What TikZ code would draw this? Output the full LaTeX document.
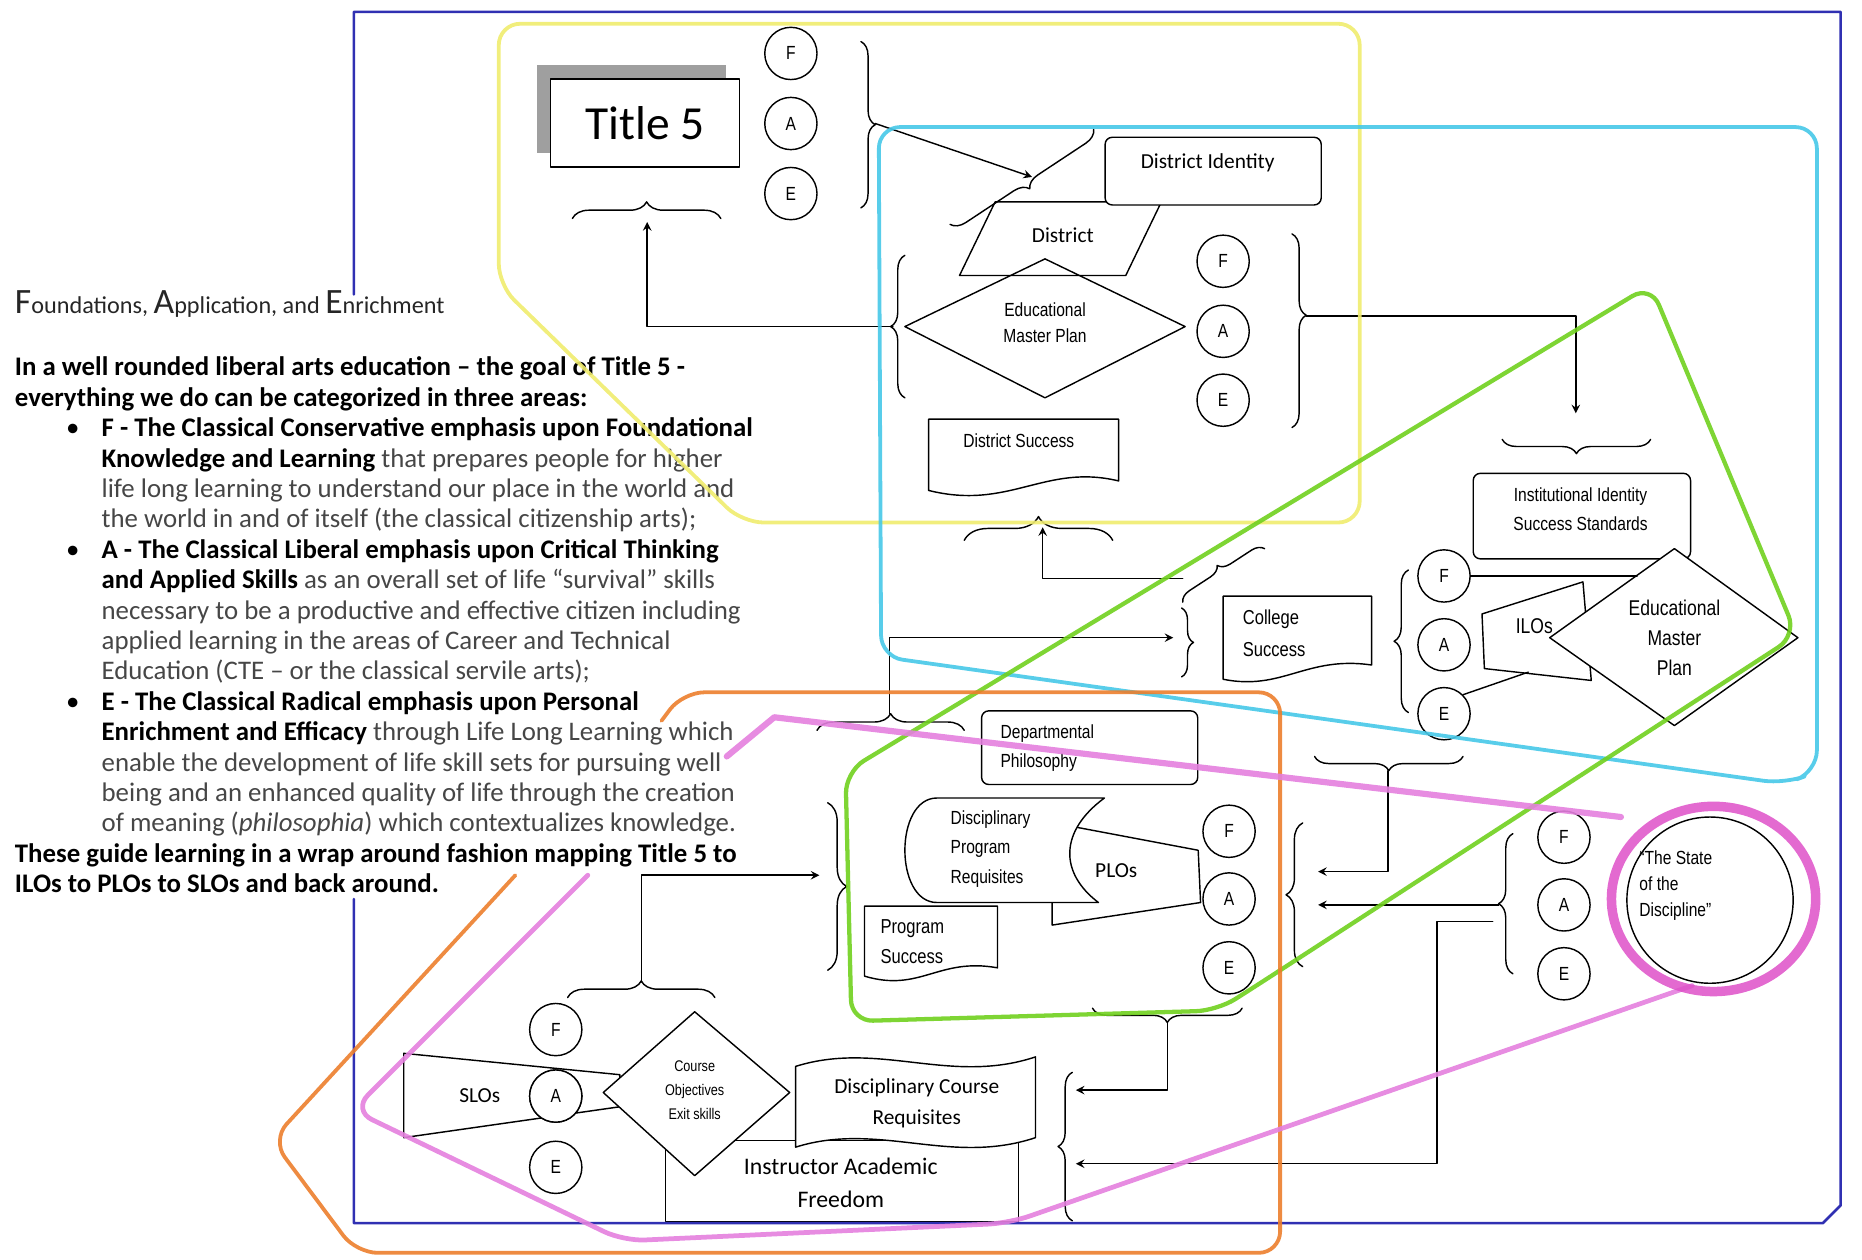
\documentclass[tikz,border=0pt]{standalone}
\usepackage{fontspec}
\setmainfont{Carlito}
\newfontfamily\narrowsf[FakeStretch=0.82]{Liberation Sans}
\usetikzlibrary{decorations.pathreplacing,calc}
\definecolor{txtgray}{RGB}{70,70,70}
\definecolor{hlyellow}{RGB}{240,236,110}
\definecolor{hlcyan}{RGB}{70,200,232}
\definecolor{hlgreen}{RGB}{112,208,30}
\definecolor{hlorange}{RGB}{236,126,44}
\definecolor{hlpink}{RGB}{228,128,222}
\definecolor{hlmagenta}{RGB}{222,80,200}
\definecolor{frameblue}{RGB}{48,48,178}
\newcommand{\bt}[1]{{\bfseries\color{black}#1}}
\newcommand{\bul}{\makebox[36.5pt][l]{\hspace{21.5pt}\color{black}\textbullet}}
\newcommand{\ind}{\hspace*{36.5pt}}
\begin{document}
\begin{tikzpicture}[x=0.5pt,y=-0.5pt,>=stealth,line join=round,line cap=round,line width=0.6pt,
    fae/.style={circle,draw,fill=white,inner sep=0pt,minimum size=22pt,font=\narrowsf\fontsize{8}{8}\selectfont},
    lbl/.style={inner sep=0pt,align=center,font=\narrowsf\fontsize{8}{11}\selectfont},
    cal/.style={inner sep=0pt,align=center,font=\fontsize{9}{13}\selectfont},
    brc/.style={decorate,decoration={brace,amplitude=#1}},
    brc/.default=6pt,
    hl/.style={line width=1.6pt,rounded corners=9pt,opacity=.9}]
\useasboundingbox (0,0) rectangle (1568,1061);

% left hand text
\node[anchor=base west,inner sep=0pt,black!85] (head) at (12,264)
  {\fontsize{10.2}{11}\selectfont{\fontsize{15}{15}\selectfont F}oundations, {\fontsize{15}{15}\selectfont A}pplication, and {\fontsize{15}{15}\selectfont E}nrichment};
\node[anchor=north west,inner sep=0pt,align=left,txtgray,font=\fontsize{11.3}{12.8}\selectfont] (areas) at (12,300) {%
\bt{In a well rounded liberal arts education – the goal of Title 5 -}\\
\bt{everything we do can be categorized in three areas:}\\
\bul\bt{F - The Classical Conservative emphasis upon Foundational}\\
\ind\bt{Knowledge and Learning} that prepares people for higher\\
\ind life long learning to understand our place in the world and\\
\ind the world in and of itself (the classical citizenship arts);\\
\bul\bt{A - The Classical Liberal emphasis upon Critical Thinking}\\
\ind\bt{and Applied Skills} as an overall set of life “survival” skills\\
\ind necessary to be a productive and effective citizen including\\
\ind applied learning in the areas of Career and Technical\\
\ind Education (CTE – or the classical servile arts);\\
\bul\bt{E - The Classical Radical emphasis upon Personal}\\
\ind\bt{Enrichment and Efficacy} through Life Long Learning which\\
\ind enable the development of life skill sets for pursuing well\\
\ind being and an enhanced quality of life through the creation\\
\ind of meaning (\textit{philosophia}) which contextualizes knowledge.\\
\bt{These guide learning in a wrap around fashion mapping Title 5 to}\\
\bt{ILOs to PLOs to SLOs and back around.}};

% Title 5
\fill[gray!75] (452,55) rectangle (611,129);
\node[draw,fill=white,inner sep=0pt,minimum width=79.5pt,minimum height=37pt,anchor=north west,font=\fontsize{20}{20}\selectfont] (title) at (463,66) {Title 5};

% F A E circles
\foreach \s/\x/\yf/\ya/\ye in {t/666/45/104/163, d/1030/220/279/337, c/1216/485/543/601,
    p/1035/700/757/815, s/1317/705/762/820, l/468/867/923/983}{
  \node[fae] (\s F) at (\x,\yf) {F};
  \node[fae] (\s A) at (\x,\ya) {A};
  \node[fae] (\s E) at (\x,\ye) {E};
}

% district
\draw (808,232) -- (838,170) -- (978,170) -- (948,232) -- cycle;
\node[draw,fill=white,rounded corners=3pt,inner sep=0pt,minimum width=91pt,minimum height=28.5pt,anchor=north west] (distid) at (930,115) {};
\node[cal] (distidt) at (1017,137) {District Identity};
\node[cal] (dist) at (895,198) {District};
\draw (762,275) -- (880,218) -- (998,275) -- (880,335) -- cycle;
\node[lbl] (edmp) at (880,272) {Educational\\Master Plan};
\filldraw[fill=white] (782,353) -- (942,353) -- (942,405) .. controls (880,390) and (850,430) .. (782,413) -- cycle;
\node[lbl] (dsucc) at (858,371) {District Success};

% institution
\node[draw,rounded corners=3pt,inner sep=0pt,minimum width=91.5pt,minimum height=36pt,anchor=north west] (inst) at (1240,398) {};
\node[lbl,align=center,font=\narrowsf\fontsize{8}{12}\selectfont] (instt) at (1331,429) {Institutional Identity\\Success Standards};
\draw (1248,517) -- (1333,490) -- (1340,573) -- (1250,563) -- cycle;
\node[lbl,font=\narrowsf\fontsize{9}{9}\selectfont] (ilos) at (1292,527) {ILOs};
\filldraw[fill=white] (1305,537) -- (1410,462) -- (1514,537) -- (1410,611) -- cycle;
\node[lbl,font=\narrowsf\fontsize{9}{12.5}\selectfont] (edmp2) at (1410,537) {Educational\\Master\\Plan};
\filldraw[fill=white] (1030,502) -- (1155,502) -- (1155,560) .. controls (1100,552) and (1080,582) .. (1030,572) -- cycle;
\node[lbl,align=left,anchor=west,font=\narrowsf\fontsize{8.5}{13.5}\selectfont] (csucc) at (1046,533) {College\\Success};

% department and program
\node[draw,rounded corners=3pt,inner sep=0pt,minimum width=91pt,minimum height=31pt,anchor=north west] (dept) at (826,598) {};
\node[lbl,align=left,anchor=west,font=\narrowsf\fontsize{8}{12.5}\selectfont] (deptt) at (842,630) {Departmental\\Philosophy};
\draw (882,692) -- (1009,716) -- (1011,760) -- (886,779) -- (886,760);
\filldraw[fill=white] (789,672) -- (930,672) .. controls (892,700) and (892,735) .. (925,760) -- (789,760) .. controls (753,760) and (753,672) .. (789,672) -- cycle;
\node[lbl,align=left,anchor=west,font=\narrowsf\fontsize{8}{12.5}\selectfont] (dpr) at (800,715) {Disciplinary\\Program\\Requisites};
\node[cal] (plos) at (940,733) {PLOs};
\filldraw[fill=white] (728,763) -- (840,763) -- (840,815) .. controls (790,806) and (775,836) .. (728,822) -- cycle;
\node[lbl,align=left,anchor=west,font=\narrowsf\fontsize{8.5}{12.5}\selectfont] (psucc) at (741,793) {Program\\Success};

% course level
\draw (340,887) -- (522,905) -- (522,932) -- (340,958) -- cycle;
\node[cal] (slos) at (404,923) {SLOs};
\node[fae] (lA2) at (lA) {A};
\node[draw,inner sep=0pt,minimum width=148.5pt,minimum height=34pt,anchor=north west] (instr) at (560,960) {};
\node[cal,font=\fontsize{10}{14}\selectfont] (instrt) at (708,996) {Instructor Academic\\Freedom};
\filldraw[fill=white] (508,920) -- (585,852) -- (665,920) -- (585,990) -- cycle;
\node[lbl,font=\narrowsf\fontsize{6.5}{10}\selectfont] (cobj) at (585,918) {Course\\Objectives\\Exit skills};
\filldraw[fill=white] (670,898) .. controls (740,876) and (800,914) .. (872,890) -- (872,958) .. controls (800,982) and (740,944) .. (670,966) -- cycle;
\node[cal] (dcr) at (772,929) {Disciplinary Course\\Requisites};

% state of the discipline
\node[circle,draw,inner sep=0pt,minimum size=70pt] (state) at (1440,758) {};
\node[lbl,align=left,anchor=west,font=\narrowsf\fontsize{8}{11}\selectfont] (statet) at (1380,746) {“The State\\of the\\Discipline”};

% braces and connectors
\draw[brc] (725,35) -- (725,175);
\coordinate (tB) at (737,104);
\draw[brc] (921,109) -- (800,189);
\coordinate (diB) at (869,149);
\draw[->] (tB) -- (diB);
\draw[brc=7pt] (482,184) -- (607,184);
\coordinate (tiB) at (545,187);
\draw[brc] (762,335) -- (762,215);
\coordinate (eL) at (752,275);
\draw[->] (eL) -| (tiB);
\draw[decorate,decoration={brace,amplitude=6pt,aspect=.42}] (1088,197) -- (1088,360);
\coordinate (eR) at (1100,266);
\coordinate (inB) at (1327,348);
\draw[->] (eR) -| (inB);
\draw[brc] (1390,370) -- (1265,370);
\draw[brc=10pt] (812,455) -- (937,455);
\coordinate (dsB) at (878,444);
\coordinate (csT) at (996,487);
\draw[->] (csT) -| (dsB);
\draw[brc=5pt] (996,507) -- (1065,462);
\draw[brc=5pt] (995,512) -- (995,570);
\draw[brc=7pt] (688,615) -- (812,615);
\coordinate (dpB) at (749,601);
\coordinate (csL) at (988,537);
\draw[->] (dpB) |- (csL);
\draw[brc] (1186,600) -- (1186,480);
\draw (cF.east) -- ++(140,0);
\draw (cE.north east) -- (1287,566);
\draw[brc=8pt] (697,676) -- (697,817);
\draw[brc=7pt] (478,840) -- (602,840);
\coordinate (slB) at (540,827);
\coordinate (dpL) at (690,737);
\draw[->] (slB) |- (dpL);
\draw[brc] (1046,849) -- (920,849);
\coordinate (pB) at (983,861);
\coordinate (crR1) at (906,918);
\draw[->] (pB) |- (crR1);
\draw[brc] (903,1028) -- (903,903);
\draw[brc=7pt] (1097,814) -- (1097,693);
\draw[brc] (1232,637) -- (1107,637);
\coordinate (ucB) at (1169,649);
\coordinate (pR1) at (1110,734);
\draw[->] (ucB) |- (pR1);
\draw[brc] (1274,820) -- (1274,702);
\coordinate (sT) at (1262,762);
\coordinate (pR2) at (1110,762);
\draw[->] (sT) -- (pR2);
\coordinate (sX) at (1257,776);
\coordinate (sY) at (1210,776);
\coordinate (crR2) at (906,980);
\draw[->] (sX) -- (sY) |- (crR2);

% highlighter outlines
\draw[frameblue,line width=1.1pt] (298,248) -- (298,10) -- (1550,10) -- (1550,1015) -- (1535,1030) -- (298,1030) -- (298,757);
\draw[hl,hlyellow] (420,240) -- (420,20) -- (1145,20) -- (1145,440) -- (625,440) -- cycle;
\draw[hl,hlcyan] (742,553) -- (740,107) -- (1530,107) -- (1530,650) -- (1503,660) -- cycle;
\draw[hl,hlgreen,line width=1.8pt] (712,650) -- (717,860) -- (1025,851) -- (1058,830) -- (1513,535) -- (1390,240) -- cycle;
\draw[hl,hlorange] (434,737) -- (229,960) -- (300,1055) -- (1078,1055) -- (1078,583) -- (575,583) -- (557,607);
\draw[hl,hlpink,line width=2pt] (495,737) -- (297,935) -- (525,1045) -- (850,1030) -- (1425,830);
\draw[hlpink,line width=2.6pt,opacity=.9] (612,637) -- (652,604) -- (1365,688);
\draw[hlmagenta,line width=4pt,opacity=.85] (1443,757) ellipse [x radius=43pt,y radius=39pt];
\end{tikzpicture}
\end{document}
